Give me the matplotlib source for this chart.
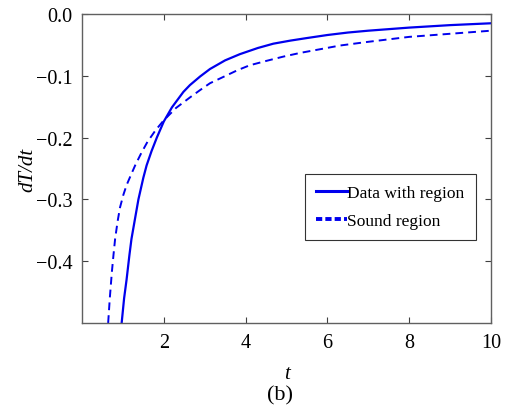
import matplotlib
matplotlib.use('Agg')
import matplotlib.pyplot as plt
from matplotlib.lines import Line2D

plt.rcParams['font.family'] = ['Liberation Serif', 'DejaVu Serif']

# dT/dt curves, read at a set of times
t_data = [0.97, 1.03, 1.09, 1.16, 1.21, 1.3, 1.38, 1.5, 1.58, 1.7, 1.83, 2.0, 2.2,
          2.48, 2.64, 2.89, 3.13, 3.5, 3.86, 4.3, 4.68, 5.1, 5.49, 6.0, 6.5, 7.0,
          8.0, 9.0, 10.0]
dTdt_data = [-0.50, -0.46, -0.43, -0.39, -0.364, -0.33, -0.30, -0.265, -0.245, -0.222,
             -0.200, -0.174, -0.151, -0.126, -0.115, -0.101, -0.089, -0.075, -0.065,
             -0.055, -0.048, -0.043, -0.039, -0.034, -0.030, -0.027, -0.022, -0.018,
             -0.015]

t_sound = [0.64, 0.68, 0.73, 0.77, 0.81, 0.87, 0.93, 1.01, 1.09, 1.2, 1.3, 1.45, 1.6,
           1.8, 2.0, 2.3, 2.64, 2.89, 3.13, 3.45, 3.8, 4.1, 4.5, 4.92, 5.33, 5.74,
           6.31, 7.0, 8.0, 9.0, 10.0]
dTdt_sound = [-0.50, -0.46, -0.418, -0.39, -0.364, -0.336, -0.313, -0.293, -0.277,
              -0.260, -0.245, -0.225, -0.207, -0.188, -0.172, -0.152, -0.135, -0.123,
              -0.112, -0.102, -0.091, -0.083, -0.076, -0.069, -0.063, -0.058, -0.051,
              -0.045, -0.037, -0.032, -0.027]

xticks = [2, 4, 6, 8, 10]
yticks = [0.0, -0.1, -0.2, -0.3, -0.4]
ytick_labels = ['0.0', '\u22120.1', '\u22120.2', '\u22120.3', '\u22120.4']

blue = '#0000ee'

fig = plt.figure(figsize=(5.07, 4.10), dpi=100)
ax = fig.add_axes([0.1617, 0.2098, 0.8067, 0.7536])

ax.plot(t_data, dTdt_data, color=blue, lw=1.6)
ax.plot(t_sound, dTdt_sound, color=blue, lw=1.4, dashes=(4.0, 2.6))

ax.set_xlim(0, 10)
ax.set_ylim(-0.5, 0.0)
ax.set_xticks(xticks)
ax.set_xticklabels([str(v) for v in xticks])
ax.set_yticks(yticks)
ax.set_yticklabels(ytick_labels)
ax.tick_params(direction='in', length=4, width=0.8, colors='#404040',
               labelcolor='black', labelsize=14.5, top=True, right=True, pad=7)
for s in ax.spines.values():
    s.set_color('#606060')
    s.set_linewidth(1.0)

ax.set_xlabel('t', fontsize=15, style='italic', labelpad=9)
ax.set_ylabel('dT/dt', fontsize=15, style='italic', labelpad=-1)
fig.text(0.553, 0.012, '(b)', fontsize=16, ha='center', va='bottom')

handles = [Line2D([], [], color=blue, lw=2.2),
           Line2D([], [], color=blue, lw=2.8, dashes=(1.6, 0.8))]
leg = ax.legend(handles, ['Data with region', 'Sound region'],
                loc='upper left', bbox_to_anchor=(0.545, 0.482),
                fontsize=12.5, frameon=True, fancybox=False, edgecolor='black',
                handlelength=1.8, handletextpad=0.0, borderpad=0.65,
                labelspacing=0.65, borderaxespad=0.0)
leg.get_frame().set_linewidth(0.8)

fig.savefig('out.png', dpi=100)
